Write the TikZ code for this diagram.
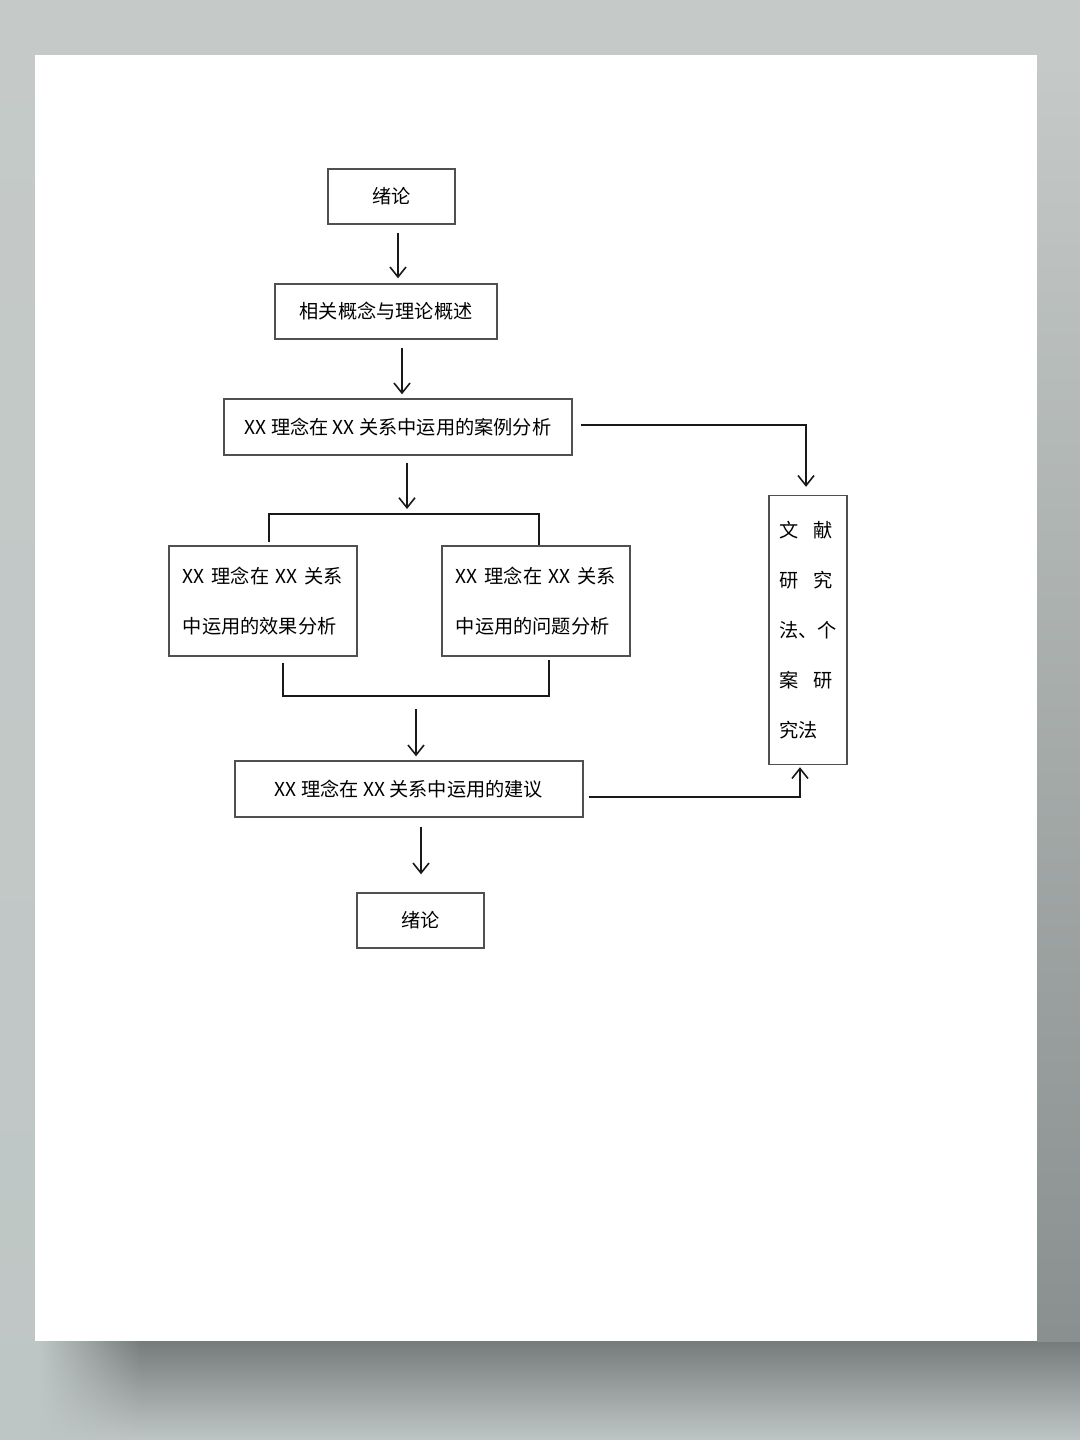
\documentclass[tikz,border=0pt]{standalone}
\usepackage{fontspec}
\setmainfont{Noto Sans CJK SC}
\usetikzlibrary{arrows.meta,fadings}
\definecolor{bgtop}{RGB}{197,202,200}
\definecolor{bgbot}{RGB}{190,198,197}
\definecolor{shadowc}{RGB}{118,124,124}
\definecolor{boxline}{RGB}{80,80,80}
\tikzfading[name=fadein, left color=transparent!100, right color=transparent!0]
\tikzset{
  box/.style={draw=boxline, line width=0.7pt, fill=white, inner sep=0pt,
    font=\fontsize{9.6pt}{12pt}\selectfont, text=black},
  arr/.style={draw=black!90, line width=0.8pt, -{Straight Barb[length=5pt,width=8pt]}},
  ln/.style={draw=black!90, line width=0.8pt},
}
\begin{document}
\begin{tikzpicture}[x=0.5pt,y=-0.5pt]
\useasboundingbox (0,0) rectangle (1080,1440);
% background
\shade[top color=bgtop, bottom color=bgbot] (0,0) rectangle (1080,1440);
\shade[top color=shadowc, bottom color=bgbot] (140,1341) rectangle (1080,1440);
\shade[top color=shadowc, bottom color=bgbot, path fading=fadein] (40,1341) rectangle (141,1440);
\shade[top color=bgtop, bottom color=shadowc!75!bgtop] (1037,60) rectangle (1080,1341);
\fill[white] (35,55) rectangle (1037,1341);

% nodes
\node[box, minimum width=63.5pt, minimum height=27.5pt] (n1) at (391.5,196.5) {绪论};
\node[box, minimum width=111pt, minimum height=27.5pt] (n2) at (386,311.5) {相关概念与理论概述};
\node[box, minimum width=174pt, minimum height=28pt] (n3) at (398,427) {XX 理念在 XX 关系中运用的案例分析};
\node[box, minimum width=94pt, minimum height=55pt, align=left,
  font=\fontsize{9.6pt}{25pt}\selectfont] (n4) at (263,601)
  {XX\hspace{0.35em}理念在\hspace{0.35em}XX\hspace{0.35em}关系\\中运用的效果分析};
\node[box, minimum width=94pt, minimum height=55pt, align=left,
  font=\fontsize{9.6pt}{25pt}\selectfont] (n5) at (536,601)
  {XX\hspace{0.35em}理念在\hspace{0.35em}XX\hspace{0.35em}关系\\中运用的问题分析};
\node[box, minimum width=174pt, minimum height=28pt] (n6) at (409,789) {XX 理念在 XX 关系中运用的建议};
\node[box, minimum width=63.5pt, minimum height=27.5pt] (n7) at (420.5,920.5) {绪论};
\node[box, minimum width=39pt, minimum height=134.5pt, align=left,
  font=\fontsize{9.6pt}{25pt}\selectfont] (n8) at (808,630)
  {文\hspace{0.8em}献\\研\hspace{0.8em}究\\法、个\\案\hspace{0.8em}研\\究法};

% helper coordinates
\coordinate (a1) at (398,0);
\coordinate (a2) at (402,0);
\coordinate (a3) at (407,509);
\coordinate (tl) at (269,514);
\coordinate (tr) at (539,514);
\coordinate (bl) at (283,696);
\coordinate (br) at (549,696);
\coordinate (a4) at (416,709);
\coordinate (a5) at (421,0);
\coordinate (r1) at (806,425);
\coordinate (r2) at (800,797);

% connectors
\draw[arr, shorten <=4pt, shorten >=2.5pt] (a1 |- n1.south) -- (a1 |- n2.north);
\draw[arr, shorten <=4pt, shorten >=2pt] (a2 |- n2.south) -- (a2 |- n3.north);
\draw[arr, shorten <=3.5pt] (a3 |- n3.south) -- (a3);
\draw[ln, shorten <=1.5pt] (tl |- n4.north) -- (tl) -- (tr) -- (tr |- n5.north);
\draw[ln, shorten <=3pt] (bl |- n4.south) -- (bl) -- (br) -- ([yshift=-1.5pt]br |- n5.south);
\draw[arr, shorten >=2pt] (a4) -- (a4 |- n6.north);
\draw[arr, shorten <=4.5pt, shorten >=9pt] (a5 |- n6.south) -- (a5 |- n7.north);
\draw[arr, shorten >=4pt] ([xshift=4pt]n3.east |- r1) -- (r1) -- (r1 |- n8.north);
\draw[arr, shorten >=1pt] ([xshift=2.5pt]n6.east |- r2) -- (r2) -- (r2 |- n8.south);
\end{tikzpicture}
\end{document}
